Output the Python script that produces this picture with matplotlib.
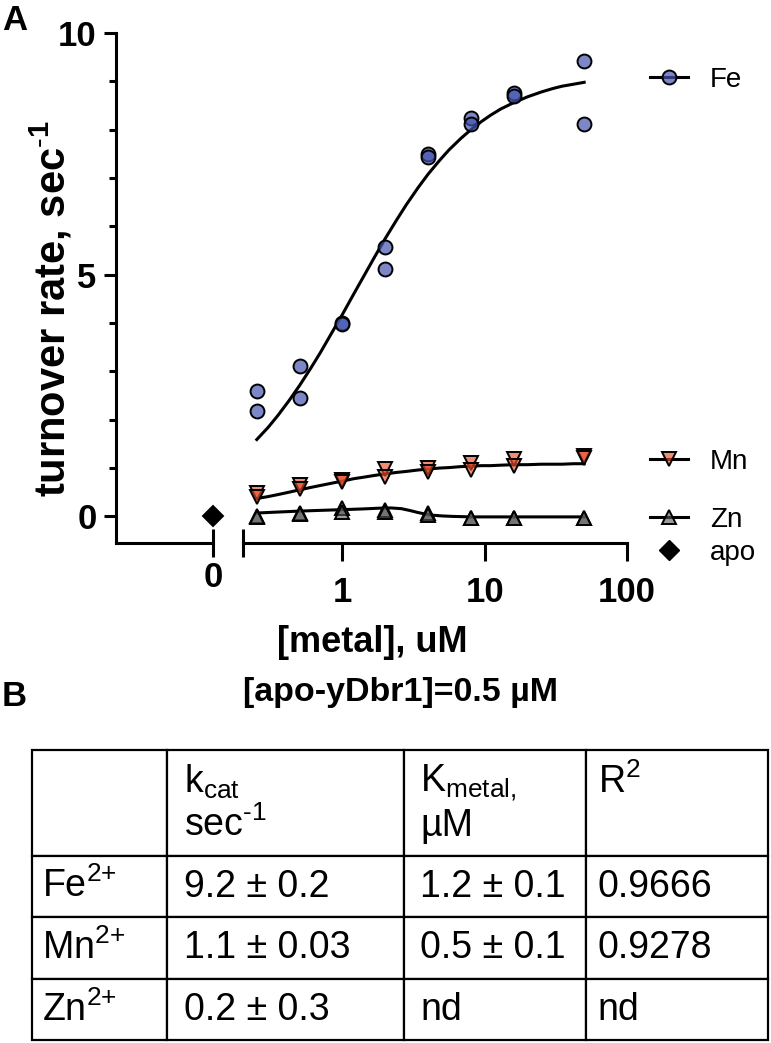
import matplotlib
matplotlib.use('Agg')
import matplotlib.pyplot as plt
from matplotlib.lines import Line2D
from matplotlib.ticker import FixedLocator, MultipleLocator, NullFormatter

plt.rcParams['font.family'] = ['Liberation Sans', 'DejaVu Sans']
plt.rcParams['mathtext.fontset'] = 'custom'
plt.rcParams['mathtext.rm'] = 'Liberation Sans'
plt.rcParams['mathtext.it'] = 'Liberation Sans:italic'
plt.rcParams['mathtext.bf'] = 'Liberation Sans:bold'

# 数据
conc = [0.25, 0.5, 1, 2, 4, 8, 16, 50]
fe_rep1 = [2.59, 3.12, 4.00, 5.58, 7.50, 8.25, 8.75, 9.42]
fe_rep2 = [2.19, 2.44, 3.98, 5.12, 7.43, 8.12, 8.70, 8.12]
mn_rep1 = [0.48, 0.64, 0.75, 0.99, 1.01, 1.11, 1.19, 1.26]
mn_rep2 = [0.40, 0.57, 0.71, 0.81, 0.92, 0.95, 1.05, 1.21]
zn_rep1 = [0.00, 0.08, 0.17, 0.14, 0.07, -0.03, -0.03, -0.03]
zn_rep2 = [-0.01, 0.04, 0.10, 0.10, 0.03, -0.03, -0.03, -0.03]
apo_x = [0]
apo_y = [0]

# fitted curves as drawn
fit_x = [0.25, 0.3, 0.35, 0.42, 0.5, 0.6, 0.7, 0.85, 1, 1.2, 1.4, 1.7, 2, 2.4, 2.8, 3.4,
         4, 4.8, 5.6, 6.8, 8, 9.5, 11, 13, 16, 20, 25, 30, 35, 42, 50]
fe_fit = [1.59, 1.84, 2.08, 2.39, 2.71, 3.07, 3.39, 3.82, 4.18, 4.60, 4.95, 5.39, 5.75, 6.13, 6.44, 6.80,
          7.08, 7.36, 7.58, 7.82, 8.00, 8.17, 8.30, 8.43, 8.56, 8.68, 8.78, 8.85, 8.90, 8.94, 8.98]
mn_fit = [0.37, 0.41, 0.45, 0.50, 0.55, 0.60, 0.64, 0.69, 0.73, 0.78, 0.81, 0.85, 0.88, 0.91, 0.93, 0.96,
          0.98, 1.00, 1.01, 1.03, 1.04, 1.05, 1.05, 1.06, 1.07, 1.07, 1.08, 1.08, 1.08, 1.09, 1.09]
zn_fit_x = [0.25, 0.35, 0.5, 0.7, 1, 1.4, 1.8, 2.2, 2.6, 3, 3.4, 3.8, 4.3, 5, 6, 7, 8, 12, 16, 30, 50]
zn_fit = [0.07, 0.09, 0.11, 0.125, 0.14, 0.155, 0.17, 0.175, 0.16, 0.12, 0.08, 0.05, 0.025, 0.01,
          0.0, -0.005, -0.01, -0.01, -0.01, -0.01, -0.01]

# table
col_labels = ['', 'k$\\mathregular{_{cat}}$\nsec$\\mathregular{^{\\text{-}1}}$',
              'K$\\mathregular{_{metal,}}$\nµM', 'R$\\mathregular{^{2}}$\n ']
row_labels = ['Fe$\\mathregular{^{2{+}}}$', 'Mn$\\mathregular{^{2{+}}}$', 'Zn$\\mathregular{^{2{+}}}$']
kcat_txt = ['9.2 ± 0.2', '1.1 ± 0.03', '0.2 ± 0.3']
kmetal_txt = ['1.2 ± 0.1', '0.5 ± 0.1', 'nd']
r2_txt = ['0.9666', '0.9278', 'nd']

fe_col = '#4354b0b3'
mn_col = '#e8502aa6'
zn_col = '#5a5a5a99'

fig = plt.figure(figsize=(7.71, 10.43), dpi=100)
W, H = 771, 1043
bot = 1 - 543 / H
hgt = (543 - 33) / H
ax0 = fig.add_axes([116 / W, bot, 97 / W, hgt])
ax1 = fig.add_axes([243 / W, bot, 384 / W, hgt], sharey=ax0)

lw = 2.2
mk = dict(linestyle='none', ms=10, mew=1.4, zorder=3)

# 1. 左边: apo
ax0.plot(apo_x, apo_y, marker='D', color='black', clip_on=False, **mk)
ax0.set_xlim(-1, 0)
ax0.set_ylim(-0.55, 10)

# 2. 右边: 金属浓度 (log)
ax1.set_xscale('log')
ax1.plot(fit_x, fe_fit, color='black', lw=lw, zorder=2)
ax1.plot(fit_x, mn_fit, color='black', lw=lw, zorder=2)
ax1.plot(zn_fit_x, zn_fit, color='black', lw=lw, zorder=2)
for rep in [fe_rep1, fe_rep2]:
    ax1.plot(conc, rep, marker='o', mfc=fe_col, mec='black', clip_on=False, **mk)
for rep in [mn_rep1, mn_rep2]:
    ax1.plot(conc, rep, marker='v', mfc=mn_col, mec='black', clip_on=False, **mk)
for rep in [zn_rep1, zn_rep2]:
    ax1.plot(conc, rep, marker='^', mfc=zn_col, mec='black', clip_on=False, **mk)
ax1.set_xlim(0.2, 100)

# axes styling
for ax in [ax0, ax1]:
    ax.spines['top'].set_visible(False)
    ax.spines['right'].set_visible(False)
    for s in ax.spines.values():
        s.set_linewidth(lw)
ax1.spines['left'].set_visible(False)
ax1.tick_params(axis='y', left=False, labelleft=False, which='both')

ax0.yaxis.set_major_locator(FixedLocator([0, 5, 10]))
ax0.yaxis.set_minor_locator(MultipleLocator(1))
ax0.tick_params(axis='y', which='major', length=9, width=lw, pad=5, labelsize=25)
ax0.tick_params(axis='y', which='minor', length=5, width=lw)
for t in ax0.get_yticklabels():
    t.set_fontweight('bold')

ax0.xaxis.set_major_locator(FixedLocator([0]))
ax0.set_xticklabels(['0'])
ax0.tick_params(axis='x', direction='inout', length=20, width=lw, pad=3, labelsize=25)

ax1.xaxis.set_major_locator(FixedLocator([1, 10, 100]))
ax1.set_xticklabels(['1', '10', '100'])
ax1.xaxis.set_minor_locator(FixedLocator([0.2]))
ax1.xaxis.set_minor_formatter(NullFormatter())
ax1.tick_params(axis='x', which='major', direction='out', length=13, width=lw, pad=11, labelsize=25)
ax1.tick_params(axis='x', which='minor', direction='inout', length=20, width=lw)
for t in ax0.get_xticklabels() + ax1.get_xticklabels():
    t.set_fontweight('bold')

ax0.set_ylabel('turnover rate, sec$\\mathbf{^{\\text{-}1}}$', fontsize=30, fontweight='bold')
ax0.yaxis.set_label_coords(-0.43, 0.46)

fig.text(372 / W, 1 - 642 / H, '[metal], uM', ha='center', va='center', fontsize=26, fontweight='bold')
fig.text(400 / W, 1 - 692 / H, '[apo-yDbr1]=0.5 µM', ha='center', va='center', fontsize=24.5, fontweight='bold')
fig.text(2 / W, 1 - 20 / H, 'A', ha='left', va='center', fontsize=25, fontweight='bold')
fig.text(2 / W, 1 - 697 / H, 'B', ha='left', va='center', fontsize=25, fontweight='bold')

# 图例
handles = [
    Line2D([], [], color='black', lw=lw, marker='o', ms=10, mfc=fe_col, mec='black', mew=1.4),
    Line2D([], [], color='black', lw=lw, marker='v', ms=10, mfc=mn_col, mec='black', mew=1.4),
    Line2D([], [], color='black', lw=lw, marker='^', ms=10, mfc=zn_col, mec='black', mew=1.4),
    Line2D([], [], linestyle='none', marker='D', ms=10, color='black'),
]
names = ['Fe', 'Mn', 'Zn', 'apo']
leg_y = [80, 462, 520, 553]
for h, n, y in zip(handles, names, leg_y):
    fig.legend(handles=[h], labels=[n], loc='center left', bbox_to_anchor=(650 / W, 1 - y / H),
               frameon=False, fontsize=20, handlelength=1.35, handletextpad=0.8,
               borderpad=0, borderaxespad=0)

# 3. 表格
axt = fig.add_axes([32 / W, 1 - 1040 / H, 736 / W, 290 / H])
axt.axis('off')
cells = [col_labels] + [[r, a, b, c] for r, a, b, c in zip(row_labels, kcat_txt, kmetal_txt, r2_txt)]
tab = axt.table(cellText=cells, cellLoc='left', bbox=[0, 0, 1, 1],
                colWidths=[135, 237, 182, 182])
tab.auto_set_font_size(False)
row_h = [107, 61, 63, 61]
pads = [0.075, 0.07, 0.09, 0.065]
for (r, c), cell in tab.get_celld().items():
    cell.set_height(row_h[r])
    cell.set_linewidth(1.6)
    cell.PAD = pads[c]
    cell.get_text().set_fontsize(27)

plt.savefig('out.png', dpi=100)
